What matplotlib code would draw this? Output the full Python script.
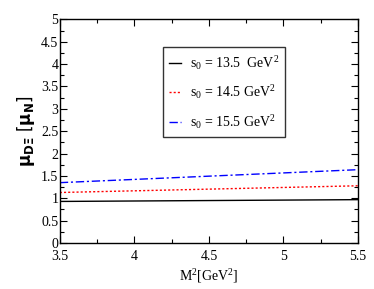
import numpy as np
import matplotlib
matplotlib.use("Agg")
import matplotlib.pyplot as plt
from matplotlib.ticker import MultipleLocator

plt.rcParams['font.family'] = ['Liberation Serif', 'DejaVu Serif']
plt.rcParams['mathtext.fontset'] = 'custom'
plt.rcParams['mathtext.rm'] = 'Liberation Serif'
plt.rcParams['mathtext.it'] = 'Liberation Serif'

# Data
M2 = [3.5, 5.5]
mu_s135 = [0.93, 0.97]
mu_s145 = [1.13, 1.28]
mu_s155 = [1.35, 1.64]

fig = plt.figure(figsize=(3.74, 2.89), dpi=100)
ax = fig.add_axes([0.160, 0.159, 0.797, 0.774])

ax.plot(M2, mu_s135, color='black', lw=1.0, label=r'$\mathrm{s_0}$ = 13.5  GeV$^2$')
ax.plot(M2, mu_s145, color='red', lw=1.0, ls=(0, (1.5, 1.5)), label=r'$\mathrm{s_0}$ = 14.5 GeV$^2$')
ax.plot(M2, mu_s155, color='blue', lw=1.0, ls=(0, (6, 2, 1.5, 2)), label=r'$\mathrm{s_0}$ = 15.5 GeV$^2$')

ax.set_xlim(3.5, 5.5)
ax.set_ylim(0, 5)
ax.xaxis.set_minor_locator(MultipleLocator(0.25))
ax.yaxis.set_minor_locator(MultipleLocator(0.25))
ax.set_xticks([3.5, 4, 4.5, 5, 5.5])
ax.set_xticklabels(['3.5', '4', '4.5', '5', '5.5'])
ax.set_yticks([0, 0.5, 1, 1.5, 2, 2.5, 3, 3.5, 4, 4.5, 5])
ax.set_yticklabels(['0', '0.5', '1', '1.5', '2', '2.5', '3', '3.5', '4', '4.5', '5'])
ax.tick_params(which='both', direction='in', top=True, right=True, labelsize=10, width=0.8)
ax.tick_params(axis='y', pad=1)
ax.tick_params(axis='x', pad=5)
ax.tick_params(which='major', length=5)
ax.tick_params(which='minor', length=3)
for s in ax.spines.values():
    s.set_linewidth(1.0)

ax.set_xlabel(r'M$^2$[GeV$^2$]', fontsize=10, labelpad=3)
ax.set_ylabel(r'$\mathbf{\mu_{D\Xi}}$ [$\mathbf{\mu_N}$]', fontsize=12, family='DejaVu Sans', labelpad=3)

leg = ax.legend(loc='upper left', bbox_to_anchor=(0.345, 0.875), fontsize=10, frameon=True,
                fancybox=False, edgecolor='black', handlelength=0.9, handletextpad=0.6,
                labelspacing=0.85, borderpad=0.45, borderaxespad=0)
leg.get_frame().set_linewidth(1.0)

fig.savefig('out.png', dpi=100)
